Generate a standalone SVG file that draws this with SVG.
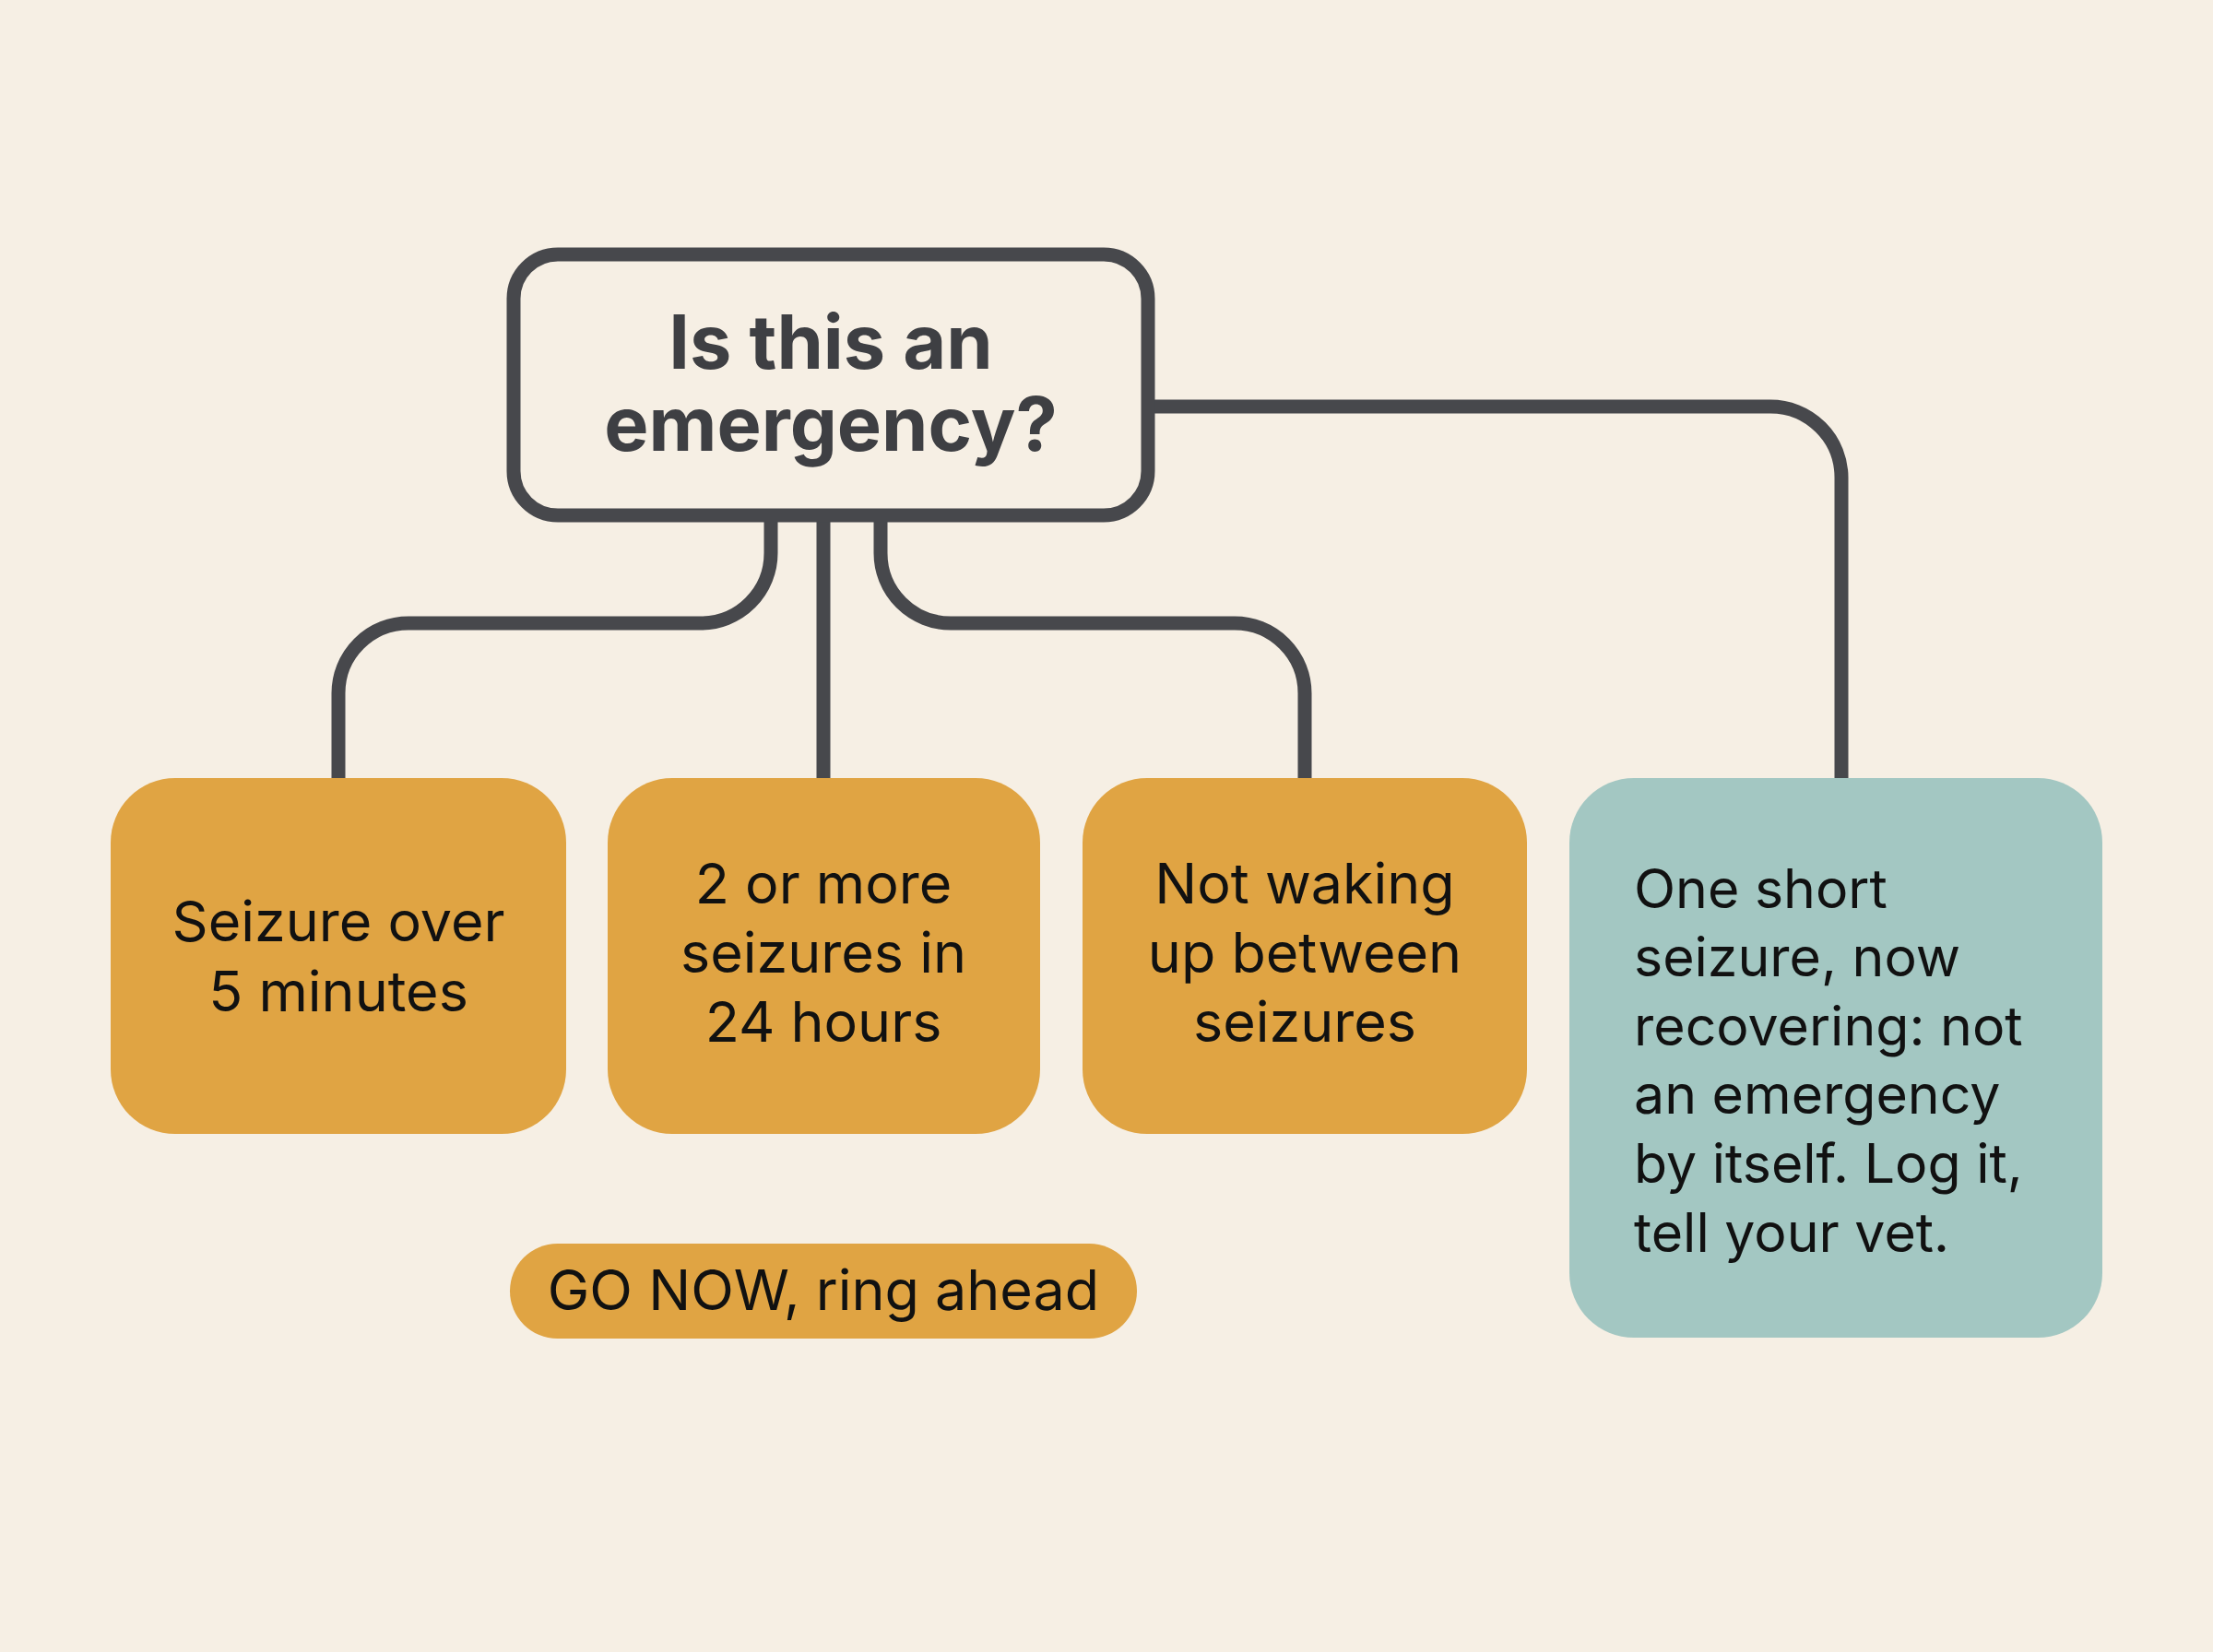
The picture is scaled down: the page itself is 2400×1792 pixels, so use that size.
<svg xmlns="http://www.w3.org/2000/svg" width="2400" height="1792" viewBox="0 0 2400 1792">
<style>
.bg{fill:#f6efe4}
.conn{fill:none;stroke:#47484c;stroke-width:15}
.q{fill:#f6efe4;stroke:#47484c;stroke-width:15}
.qt{font-family:Inter,"Liberation Sans",sans-serif;font-weight:700;font-size:81px;fill:#3e3f43;text-anchor:middle}
.or{fill:#e0a443}
.te{fill:#a3c7c2}
.t{font-family:Inter,"Liberation Sans",sans-serif;font-size:61px;fill:#111111}
.ts{font-size:59px}
.c{text-anchor:middle}
</style>
<rect class="bg" x="0" y="0" width="2400" height="1792"/>
<g id="connectors">
<path class="conn" d="M836 560 V600 A76 76 0 0 1 760 676 H443 A76 76 0 0 0 367 752 V845"/>
<path class="conn" d="M893 560 V845"/>
<path class="conn" d="M955 560 V600 A76 76 0 0 0 1031 676 H1339 A76 76 0 0 1 1415 752 V845"/>
<path class="conn" d="M1245 441 H1920 A77 77 0 0 1 1997 518 V845"/>
</g>
<g id="question">
<rect class="q" x="557" y="276" width="688" height="283" rx="48"/>
<text class="qt" x="901" y="400">Is this an</text>
<text class="qt" x="901" y="489">emergency?</text>
</g>
<g id="n1">
<rect class="or" x="120" y="844" width="494" height="386" rx="70"/>
<text class="t c" x="367" y="1021">Seizure over</text>
<text class="t c" x="367" y="1097">5 minutes</text>
</g>
<g id="n2">
<rect class="or" x="659" y="844" width="469" height="386" rx="70"/>
<text class="t c" x="893" y="980">2 or more</text>
<text class="t c" x="893" y="1055">seizures in</text>
<text class="t c" x="893" y="1130">24 hours</text>
</g>
<g id="n3">
<rect class="or" x="1174" y="844" width="482" height="386" rx="70"/>
<text class="t c" x="1415" y="980">Not waking</text>
<text class="t c" x="1415" y="1055">up between</text>
<text class="t c" x="1415" y="1130">seizures</text>
</g>
<g id="n4">
<rect class="te" x="1702" y="844" width="578" height="607" rx="70"/>
<text class="t ts" x="1772" y="985">One short</text>
<text class="t ts" x="1772" y="1059">seizure, now</text>
<text class="t ts" x="1772" y="1134">recovering: not</text>
<text class="t ts" x="1772" y="1208">an emergency</text>
<text class="t ts" x="1772" y="1283">by itself. Log it,</text>
<text class="t ts" x="1772" y="1358">tell your vet.</text>
</g>
<g id="go">
<rect class="or" x="553" y="1349" width="680" height="103" rx="51.5"/>
<text class="t c" x="893" y="1421">GO NOW, ring ahead</text>
</g>
</svg>
